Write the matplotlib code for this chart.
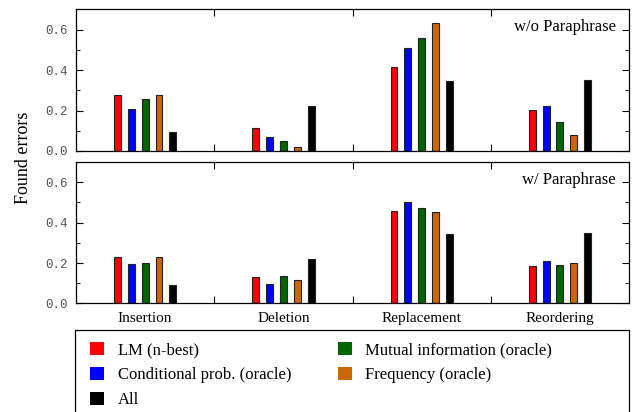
import numpy as np
import matplotlib
matplotlib.use("Agg")
import matplotlib.pyplot as plt
from matplotlib.patches import Rectangle
from matplotlib.ticker import FixedLocator, NullFormatter

# ---- data ----
categories = ["Insertion", "Deletion", "Replacement", "Reordering"]
series = ["LM (n-best)", "Conditional prob. (oracle)", "Mutual information (oracle)",
          "Frequency (oracle)", "All"]
colors = ["#ff0000", "#0000ff", "#006400", "#cc6600", "#000000"]

# w/o Paraphrase
top_lm   = [0.277, 0.113, 0.415, 0.203]
top_cond = [0.210, 0.067, 0.510, 0.223]
top_mi   = [0.259, 0.049, 0.556, 0.141]
top_freq = [0.277, 0.020, 0.633, 0.079]
top_all  = [0.092, 0.221, 0.344, 0.351]

# w/ Paraphrase
bot_lm   = [0.228, 0.130, 0.458, 0.184]
bot_cond = [0.193, 0.097, 0.503, 0.208]
bot_mi   = [0.198, 0.138, 0.473, 0.191]
bot_freq = [0.228, 0.114, 0.455, 0.201]
bot_all  = [0.090, 0.219, 0.343, 0.351]

serif = "Liberation Serif"
mono = "Liberation Mono"

fig = plt.figure(figsize=(6.32, 4.12), dpi=100)
ax1 = fig.add_axes([0.1203, 0.6335, 0.875, 0.3438])
ax2 = fig.add_axes([0.1203, 0.2634, 0.875, 0.3434])

centers = np.arange(len(categories)) + 0.5
bw = 0.05
step = 0.1

def draw(ax, vals, title, show_labels):
    for i, v in enumerate(vals):
        ax.bar(centers + (i - 2) * step, v, bw, color=colors[i], edgecolor="#222222",
               linewidth=0.8, label=series[i])
    ax.set_xlim(0, 4)
    ax.set_ylim(0, 0.7)
    ax.yaxis.set_major_locator(FixedLocator([0, 0.2, 0.4, 0.6]))
    ax.yaxis.set_minor_locator(FixedLocator([0.1, 0.3, 0.5]))
    ax.set_yticklabels(["0.0", "0.2", "0.4", "0.6"], family=mono, fontsize=9, color="#555555")
    ax.xaxis.set_major_locator(FixedLocator([1, 2, 3]))
    ax.xaxis.set_major_formatter(NullFormatter())
    ax.xaxis.set_minor_locator(FixedLocator(centers))
    if show_labels:
        ax.set_xticklabels(categories, minor=True, family=serif, fontsize=11)
    else:
        ax.xaxis.set_minor_formatter(NullFormatter())
    ax.tick_params(axis="x", which="minor", length=0, pad=6)
    ax.tick_params(axis="x", which="major", direction="in", length=5, top=True, bottom=True)
    ax.tick_params(axis="y", which="both", direction="in", left=True, right=True)
    ax.tick_params(axis="y", which="major", length=5, pad=6)
    ax.tick_params(axis="y", which="minor", length=3)
    for s in ax.spines.values():
        s.set_linewidth(0.9)
    ax.text(0.976, 0.93, title, transform=ax.transAxes, ha="right", va="top",
            family=serif, fontsize=12)

draw(ax1, [top_lm, top_cond, top_mi, top_freq, top_all], "w/o Paraphrase", False)
draw(ax2, [bot_lm, bot_cond, bot_mi, bot_freq, bot_all], "w/ Paraphrase", True)

fig.text(0.037, 0.618, "Found errors", rotation=90, ha="center", va="center",
         family=serif, fontsize=13)

# legend box runs off the bottom of the figure
fig.patches.append(Rectangle((0.1187, -0.02), 0.876, 0.219, transform=fig.transFigure,
                             fill=False, edgecolor="black", linewidth=0.9))

h, l = ax2.get_legend_handles_labels()
order = [0, 1, 4, 2, 3]
leg = fig.legend([h[i] for i in order], [l[i] for i in order], ncol=2,
                 loc="upper left", bbox_to_anchor=(0.1266, 0.194),
                 borderaxespad=0, frameon=False,
                 prop={"family": serif, "size": 12}, handlelength=0.85, handleheight=0.85,
                 handletextpad=0.8, labelspacing=0.5, borderpad=0.6, columnspacing=2.8)
for p in leg.get_patches():
    p.set_edgecolor("none")

fig.savefig("out.png", dpi=100)
